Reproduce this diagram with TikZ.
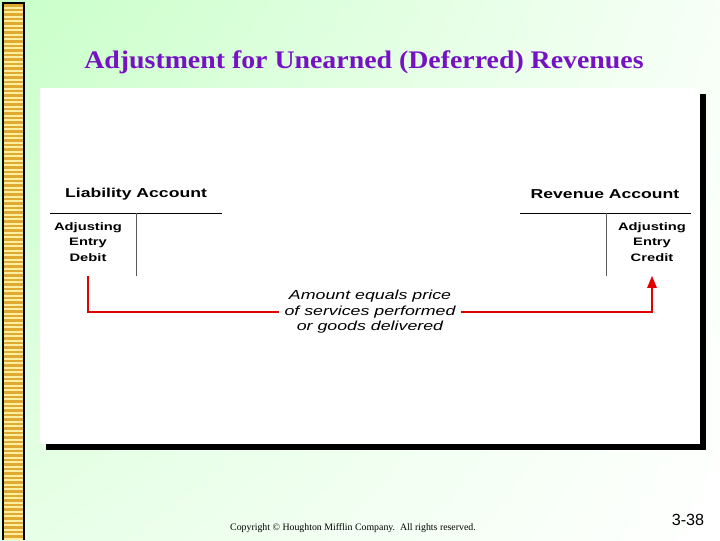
\documentclass[tikz,border=0pt]{standalone}
\usepackage{fontspec}
\setmainfont{Liberation Serif}
\setsansfont{Liberation Sans}
\newfontfamily\widesans[FakeStretch=1.36]{Liberation Sans}
\newfontfamily\titleserif[FakeStretch=1.1]{Liberation Serif}
\usetikzlibrary{arrows.meta,positioning,shadings}
\definecolor{SlideGreen}{RGB}{200,255,200}
\definecolor{TitlePurple}{RGB}{118,18,196}
\definecolor{StripeGold}{RGB}{222,170,50}
\definecolor{StripeCream}{RGB}{255,238,160}
\definecolor{ArrowRed}{RGB}{226,0,0}
\tikzset{
    slidetitle/.style={font=\titleserif\bfseries\fontsize{18}{21}\selectfont, text=TitlePurple, inner sep=0pt},
    acctitle/.style={font=\widesans\bfseries\fontsize{9.2}{11}\selectfont, inner sep=0pt},
    entry/.style={font=\widesans\bfseries\fontsize{7.7}{11}\selectfont, align=center, inner sep=0pt},
    tline/.style={draw=black, line width=0.7pt},
    tstem/.style={draw=gray!70!black, line width=0.7pt},
    redline/.style={draw=ArrowRed, line width=1.4pt},
    redarrow/.style={redline, -{Triangle[length=3mm, width=2.3mm]}},
    note/.style={font=\widesans\itshape\fontsize{9.3}{11}\selectfont, align=center, inner xsep=4pt, inner ysep=0pt},
    footer/.style={font=\fontsize{7}{8}\selectfont, inner sep=0pt},
    pagenum/.style={font=\sffamily\fontsize{11.5}{13}\selectfont, inner sep=0pt},
}

\begin{document}
\begin{tikzpicture}[x=0.025cm, y=-0.025cm]
\useasboundingbox (0,0) rectangle (720,540);
% slide background and side stripe
\shade[upper left=SlideGreen, upper right=SlideGreen!15!white,
       lower left=SlideGreen!45!white, lower right=white] (0,0) rectangle (720,540);
\fill[black] (2,2) rectangle (25,540);
\fill[StripeCream] (3.5,3.5) rectangle (23,540);
\foreach \y in {4,8.5,...,538}
    \fill[StripeGold] (3.5,\y) rectangle (23,\y+2.5);

\node[slidetitle] (title) at (364,62) {Adjustment for Unearned (Deferred) Revenues};

% white panel with drop shadow
\fill[black] (46,94) rectangle (706,450);
\fill[white] (40,88) rectangle (700,444);

% liability T-account
\node[acctitle] (liab) at (136,194) {Liability Account};
\draw[tline] (50,213) -- (222,213);
\draw[tstem] (136,213) -- (136,276);
\node[entry] (debit) at (88,242) {Adjusting\\Entry\\Debit};

% revenue T-account
\node[acctitle] (rev) at (605,194) {Revenue Account};
\draw[tline] (520,213) -- (691,213);
\draw[tstem] (606,213) -- (606,276);
\node[entry] (credit) at (652,242) {Adjusting\\Entry\\Credit};

\node[note] (amount) at (370,312) {Amount equals price\\of services performed\\or goods delivered};

\draw[redline] ([yshift=-10pt]debit.south) |- (amount.west);
\draw[redarrow] (amount.east) -| ([yshift=-10pt]credit.south);

\node[footer] (copyr) at (353,528) {Copyright \textcopyright\ Houghton Mifflin Company.\ \ All rights reserved.};
\node[pagenum] (page) at (688,520) {3-38};
\end{tikzpicture}
\end{document}
